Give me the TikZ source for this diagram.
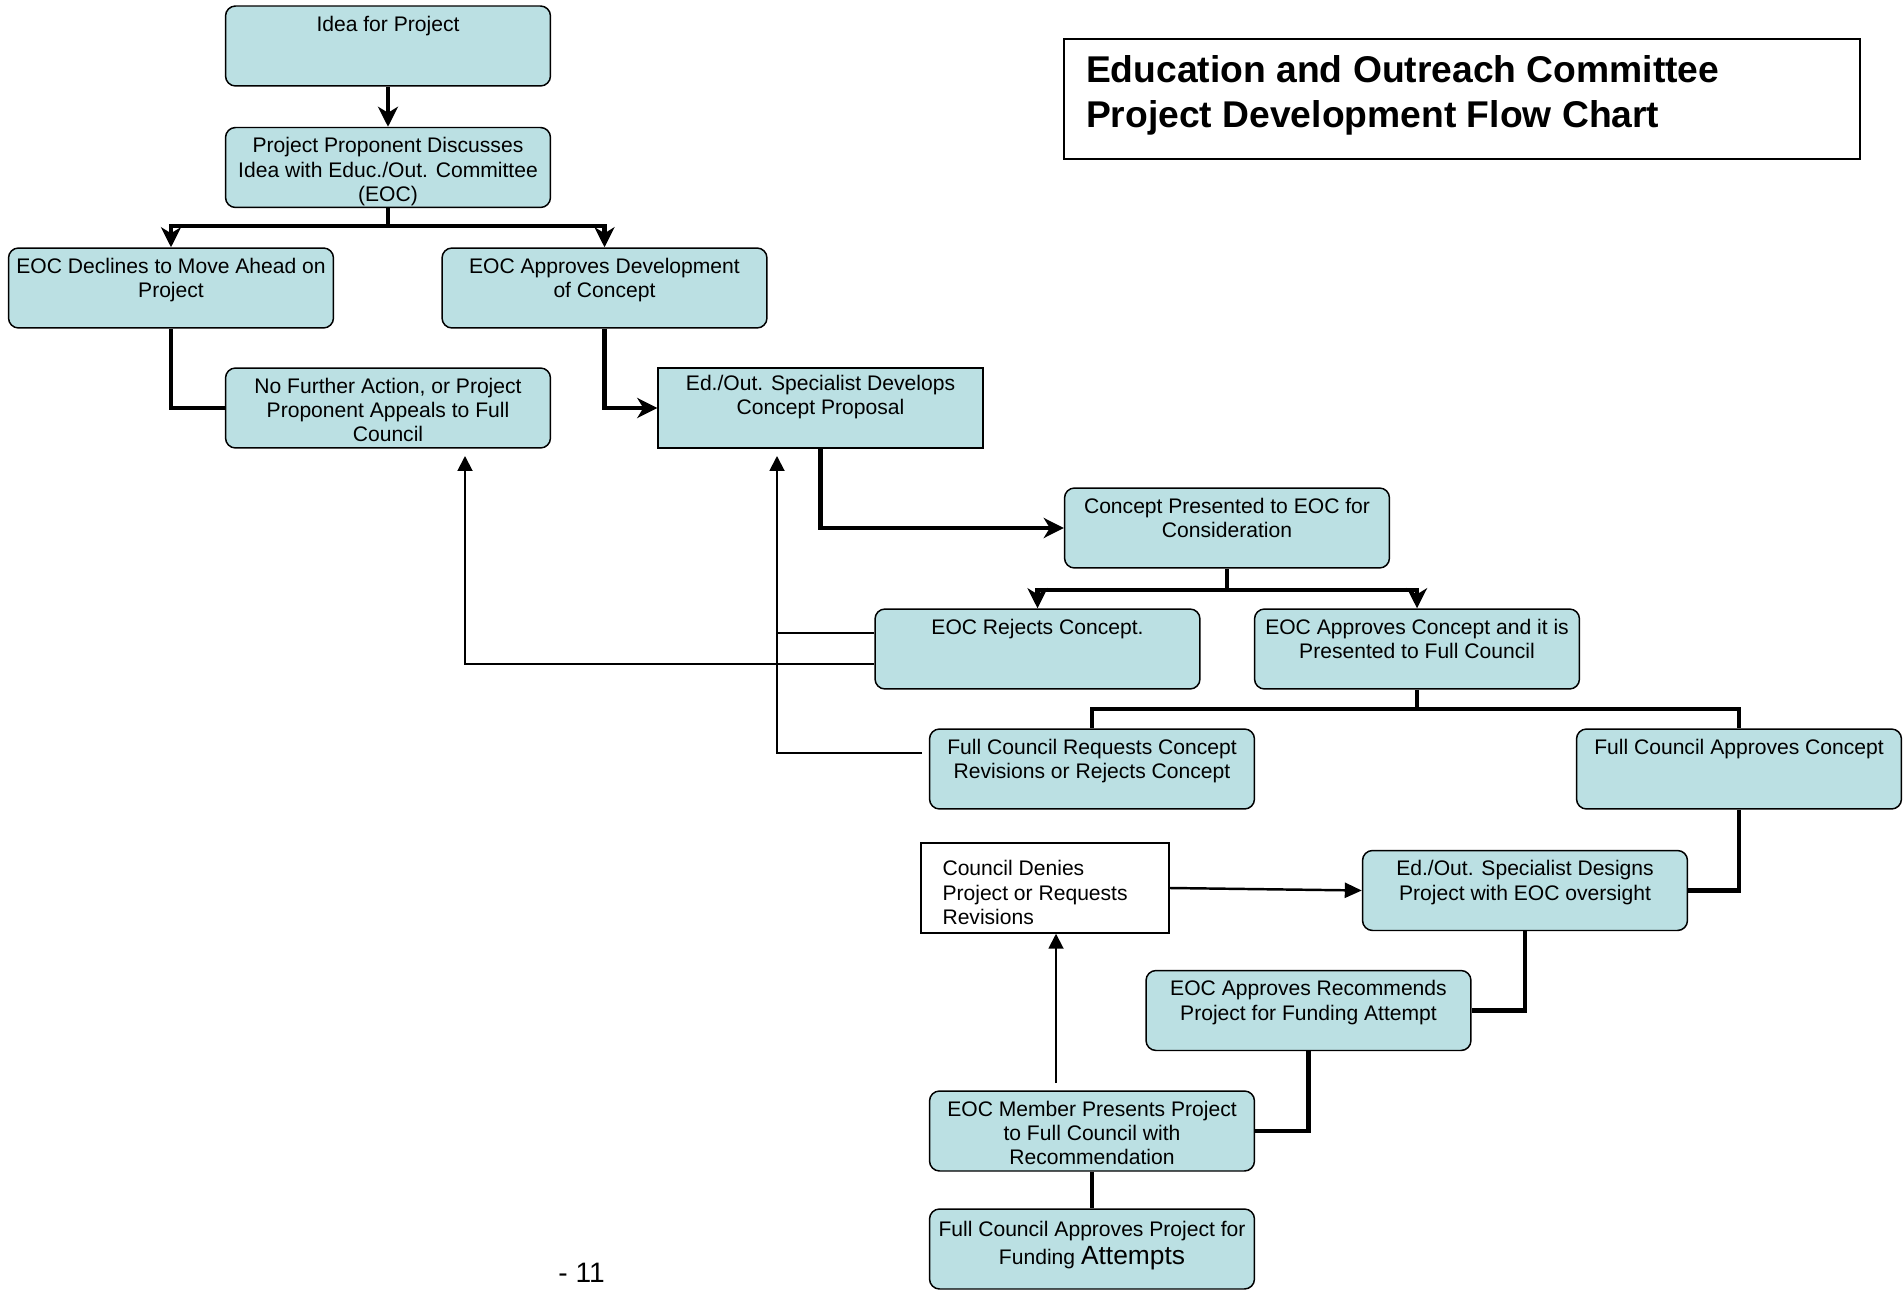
\documentclass[tikz,border=0pt]{standalone}
\usepackage{fontspec}
\setmainfont{Liberation Sans}
\usetikzlibrary{positioning, shapes.geometric, arrows.meta}
\definecolor{boxfill}{RGB}{187,224,227}
\newcommand{\boxtext}[1]{\parbox[c][1.5cm][t]{6.4cm}{\vspace*{0.15cm}\centering #1}}

\begin{document}
\begin{tikzpicture} [x=0.02cm, y=-0.02cm,
  stage/.style={rectangle, draw, line width=0.85pt, fill=boxfill, rounded corners=0.2cm, minimum width=6.5cm, minimum height=1.6cm, inner sep=0.05cm, font=\fontsize{12}{13.8}\selectfont},
  flow/.style={line width=2.8pt, >={Stealth[length=0.4cm, width=0.4cm, inset=0.12cm]}},
  back/.style={line width=1.1pt, >={Triangle[length=0.3cm, width=0.3cm]}}]
\useasboundingbox (0,0) rectangle (1903,1290);
\node[draw, line width=0.85pt, minimum width=15.92cm, minimum height=2.4cm, inner xsep=0.44cm, inner ysep=0.1cm, font=\bfseries\fontsize{21.2}{25.5}\selectfont] (title) at (1462,99) {\parbox[c][2.2cm][t]{15.04cm}{\vspace*{0.24cm}\raggedright Education and Outreach Committee\\Project Development Flow Chart}};
\node[stage] (idea) at (388,46) {\boxtext{Idea for Project}};
\node[stage] (prop) at (388,167.5) {\boxtext{Project Proponent Discusses\\Idea with Educ./Out. Committee\\(EOC)}};
\node[stage] (decl) at (171,288) {\boxtext{EOC Declines to Move Ahead on\\Project}};
\node[stage] (apprdev) at (604.5,288) {\boxtext{EOC Approves Development\\of Concept}};
\node[stage] (nofurther) at (388,408) {\boxtext{No Further Action, or Project\\Proponent Appeals to Full\\Council}};
\node[stage, sharp corners] (develops) at (820.5,408) {\boxtext{\vspace*{-0.06cm}Ed./Out. Specialist Develops\\Concept Proposal}};
\node[stage] (presented) at (1227,528) {\boxtext{Concept Presented to EOC for\\Consideration}};
\node[stage] (rejects) at (1037.5,649) {\boxtext{EOC Rejects Concept.}};
\node[stage] (approves) at (1417,649) {\boxtext{EOC Approves Concept and it is\\Presented to Full Council}};
\node[stage] (requests) at (1092,769) {\boxtext{Full Council Requests Concept\\Revisions or Rejects Concept}};
\node[stage] (fcapproves) at (1739,769) {\boxtext{Full Council Approves Concept}};
\node[draw, line width=0.85pt, fill=white, minimum width=4.96cm, minimum height=1.8cm, inner xsep=0.42cm, inner ysep=0.05cm, font=\fontsize{12}{13.8}\selectfont] (denies) at (1045,888) {\parbox[c][1.7cm][t]{4.1cm}{\vspace*{0.3cm}\raggedright Council Denies\\Project or Requests\\Revisions}};
\node[stage] (designs) at (1525,890.5) {\boxtext{Ed./Out. Specialist Designs\\Project with EOC oversight}};
\node[stage] (recommends) at (1308.5,1010.5) {\boxtext{EOC Approves Recommends\\Project for Funding Attempt}};
\node[stage] (member) at (1092,1131) {\boxtext{EOC Member Presents Project\\to Full Council with\\Recommendation}};
\node[stage] (final) at (1092,1249) {\boxtext{\vspace*{0.05cm}Full Council Approves Project for\\[2pt]Funding {\fontsize{15}{13.8}\selectfont Attempts}}};
\node[anchor=base west, inner sep=0pt, font=\fontsize{16}{18}\selectfont] (pagenum) at (558,1282) {- 11};

\coordinate (split1) at (388,226);
\coordinate (split2) at (1227,590);
\coordinate (split3) at (1417,709);
\draw[flow, ->] (idea) -- (prop);
\draw[flow, ->] (prop.south) -- (split1) -| (decl.north);
\draw[flow, ->] (split1) -| (apprdev.north);
\draw[flow] (decl.south) |- (nofurther.west);
\draw[flow, ->] (apprdev.south) |- (develops.west);
\draw[flow, ->] (develops.south) |- (presented.west);
\draw[flow, ->] (presented.south) -- (split2) -| (rejects.north);
\draw[flow, ->] (split2) -| (approves.north);
\draw[flow] (approves.south) -- (split3) -| (requests.north);
\draw[flow] (split3) -| (fcapproves.north);
\draw[flow] (fcapproves.south) |- (designs.east);
\draw[flow] (designs.south) |- (recommends.east);
\draw[flow] (recommends.south) |- (member.east);
\draw[flow] (member) -- (final);

\coordinate (tipA) at (465,456);
\coordinate (tipB) at (777,456);
\coordinate (reqend) at (922,753);
\coordinate (memtop) at (1056,1083);
\coordinate (rjup) at ([yshift=0.32cm]rejects.west);
\coordinate (rjlow) at ([yshift=-0.3cm]rejects.west);
\draw[back, ->] (rjlow) -| (tipA);
\draw[back, ->] (rjup) -| (tipB);
\draw[back] (reqend) -| (rjup -| tipB);
\draw[back, ->] (memtop) -- (memtop |- denies.south);
\draw[line width=1.4pt, -{Triangle[length=0.34cm, width=0.3cm]}] (denies.east) -- (designs.west);
\end{tikzpicture}
\end{document}
